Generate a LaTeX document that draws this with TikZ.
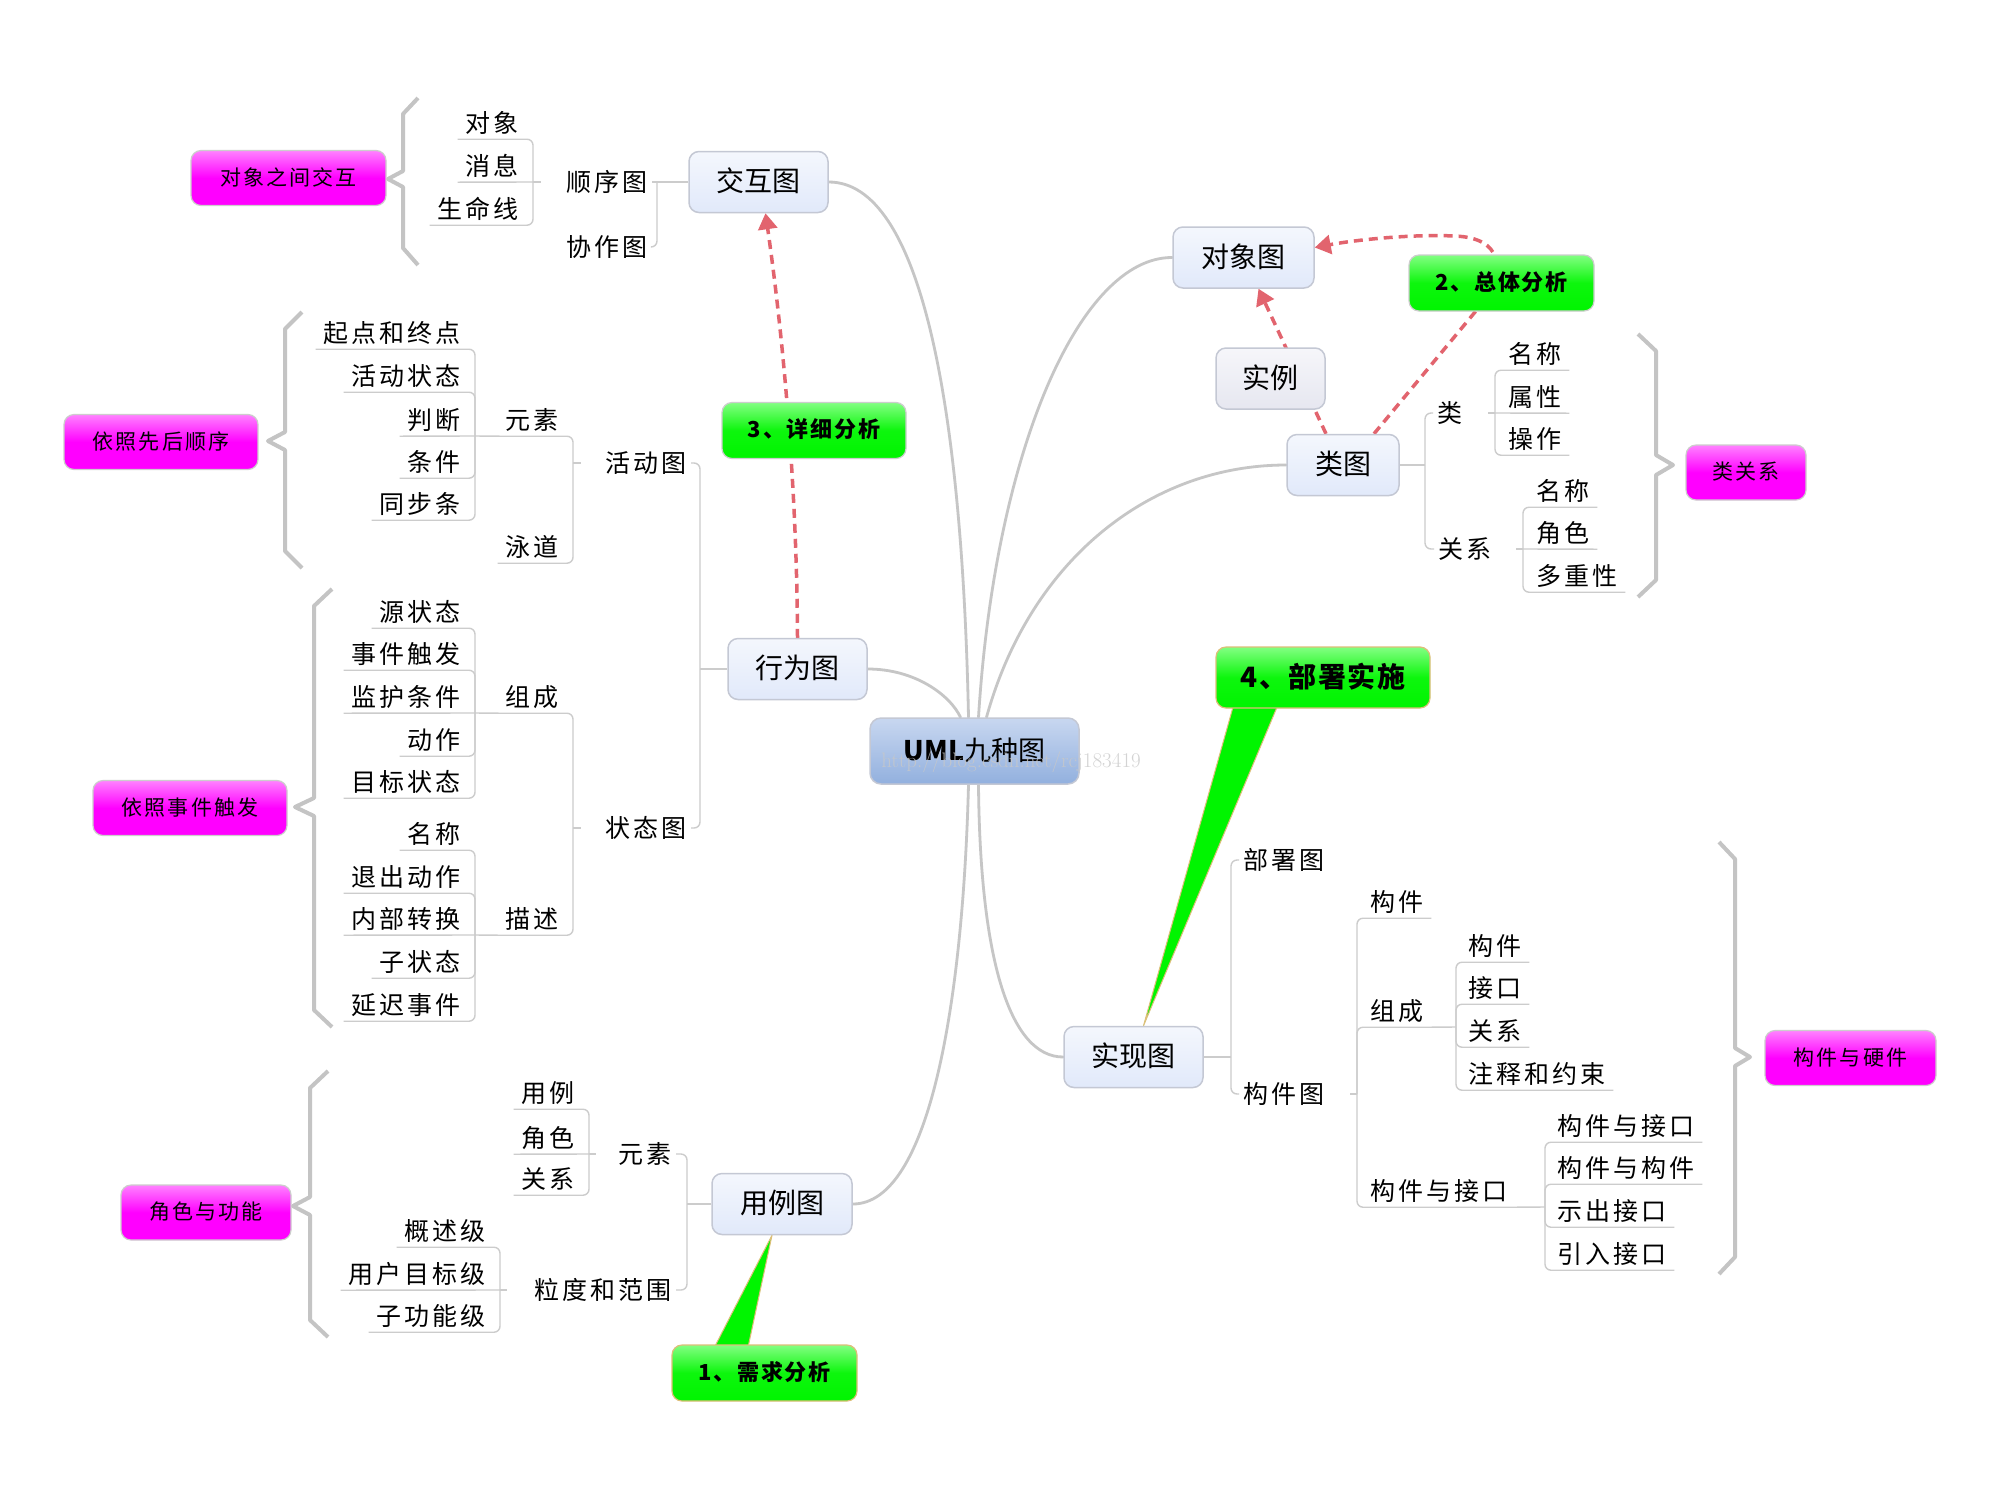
\documentclass[tikz,border=0pt]{standalone}
\usepackage{fontspec}
\newfontfamily\cjk{Noto Sans CJK SC}
\newfontfamily\cjkls{Noto Sans CJK SC}[LetterSpace=12]
\newfontfamily\cjkpk{Noto Sans CJK SC}[LetterSpace=10]
\newfontfamily\cjkgr{Noto Sans CJK SC}[LetterSpace=8]
\newfontfamily\cjkgrb{Noto Sans CJK SC}[LetterSpace=5]
\usetikzlibrary{arrows.meta,calc}
\pgfdeclarelayer{bg}
\pgfsetlayers{bg,main}
\definecolor{lineg}{RGB}{204,204,204}
\definecolor{mainl}{RGB}{198,198,198}
\definecolor{bracec}{RGB}{196,196,196}
\definecolor{dred}{RGB}{226,100,110}
\definecolor{boxt}{RGB}{244,247,253}
\definecolor{boxbt}{RGB}{225,233,250}
\definecolor{boxb}{RGB}{196,200,212}
\definecolor{cent}{RGB}{200,215,240}
\definecolor{cenb}{RGB}{146,176,222}
\definecolor{grt}{RGB}{130,255,130}
\definecolor{grbt}{RGB}{0,245,0}
\definecolor{pinkt}{RGB}{255,130,255}
\definecolor{pinkb}{RGB}{255,0,255}
\definecolor{tanb}{RGB}{222,190,120}
\definecolor{greyb}{RGB}{205,205,205}
\definecolor{instt}{RGB}{246,246,250}
\definecolor{instb}{RGB}{230,231,240}
\definecolor{wmark}{RGB}{200,200,200}
\tikzset{
  tline/.style={draw=lineg, line width=1.4pt, rounded corners=6pt},
  mainline/.style={draw=mainl, line width=2.8pt, line cap=round},
  brace/.style={draw=bracec, line width=4pt, line join=round},
  dasharrow/.style={draw=dred, line width=3.5pt, dash pattern=on 9pt off 6pt, -{Triangle[length=16pt,width=19pt]}},
  leafL/.style={font=\cjkls\fontsize{25}{30}\selectfont, inner xsep=8pt, inner ysep=4pt, text height=21pt, text depth=3pt, anchor=east},
  leafR/.style={leafL, anchor=west},
  topL/.style={leafL, inner xsep=4pt},
  topR/.style={topL, anchor=west},
  mainbox/.style={draw=boxb, line width=1.5pt, rounded corners=10pt, top color=boxt, bottom color=boxbt, minimum height=61pt, inner sep=0pt, font=\cjk\fontsize{28}{30}\selectfont, text height=22pt, text depth=3pt},
  instbox/.style={mainbox, top color=instt, bottom color=instb},
  centerbox/.style={draw=boxb, line width=1.5pt, rounded corners=11pt, top color=cent, bottom color=cenb, minimum width=209pt, minimum height=66pt, inner sep=0pt, font=\cjk\fontsize{27}{30}\selectfont, text height=21pt, text depth=3pt},
  greenbox/.style={draw=greyb, line width=1.2pt, rounded corners=10pt, top color=grt, bottom color=grbt, middle color=grbt!90!grt, minimum height=56pt, inner sep=0pt, font=\cjkgr\bfseries\fontsize{22}{26}\selectfont, text height=17pt, text depth=3pt},
  greenbig/.style={greenbox, draw=tanb, minimum height=61pt, font=\cjkgrb\bfseries\fontsize{28}{30}\selectfont, text height=22pt},
  pinkbox/.style={draw=greyb, line width=1.2pt, rounded corners=10pt, top color=pinkt, bottom color=pinkb, middle color=pinkb, minimum height=55pt, inner sep=0pt, font=\cjkpk\fontsize{21}{24}\selectfont, text height=17pt, text depth=3pt},
}
\begin{document}
\begin{tikzpicture}[x=1pt,y=-1pt]
\useasboundingbox (0,0) rectangle (2000,1500);
\begin{pgfonlayer}{bg}
\fill[white] (0,0) rectangle (2000,1500);
\end{pgfonlayer}

% ---------- main boxes ----------
\node[centerbox] (c) at (974.5,751) {{\bfseries UML}九种图};
\node[mainbox, minimum width=139pt] (jh) at (758.5,182) {交互图};
\node[mainbox, minimum width=139pt] (xw) at (797.5,669) {行为图};
\node[mainbox, minimum width=140pt] (yl) at (782,1204) {用例图};
\node[mainbox, minimum width=141pt] (dx) at (1243.5,257.5) {对象图};
\node[mainbox, minimum width=112pt] (lt) at (1343,465) {类图};
\node[mainbox, minimum width=139pt] (sx) at (1133.5,1057) {实现图};
\node[instbox, minimum width=109pt] (sl) at (1270.5,378.5) {实例};

% ---------- callouts ----------
\node[greenbox, minimum width=185pt] (g2) at (1501.5,283) {2、总体分析};
\node[greenbox, minimum width=184pt] (g3) at (814,430.5) {3、详细分析};
\node[greenbig, minimum width=214pt] (g4) at (1323,677.5) {4、部署实施};
\node[greenbox, draw=tanb, minimum width=185pt] (g1) at (764.5,1373) {1、需求分析};

% ---------- summaries ----------
\node[pinkbox, minimum width=195pt] (p1) at (288.5,178) {对象之间交互};
\node[pinkbox, minimum width=194pt] (p2) at (161,442) {依照先后顺序};
\node[pinkbox, minimum width=194pt] (p3) at (190,808) {依照事件触发};
\node[pinkbox, minimum width=170pt] (p4) at (206,1212.5) {角色与功能};
\node[pinkbox, minimum width=120pt] (p5) at (1746,472.5) {类关系};
\node[pinkbox, minimum width=171pt] (p6) at (1850.5,1058) {构件与硬件};

% ---------- junctions ----------
\coordinate (J-jh) at (657,182);
\coordinate (J-sxt) at (533,182);
\coordinate (J-xw) at (700,669);
\coordinate (J-hdt) at (573,463);
\coordinate (J-ys1) at (475,436);
\coordinate (J-zt) at (573,828);
\coordinate (J-zc) at (475,713);
\coordinate (J-ms) at (475,935);
\coordinate (J-yl) at (687,1204);
\coordinate (J-ys2) at (589,1154);
\coordinate (J-ld) at (500,1290);
\coordinate (J-lt) at (1425,465);
\coordinate (J-lei) at (1495,413);
\coordinate (J-gx) at (1523,549);
\coordinate (J-sx) at (1231,1057);
\coordinate (J-gjt) at (1357,1094);
\coordinate (J-zc2) at (1456,1027);
\coordinate (J-gy) at (1545,1207);

% ---------- 交互图 ----------
\node[topL] (sxt) at (652,182) {顺序图};
\node[topL] (xzt) at (652,247) {协作图};
\node[leafL] (dxa) at (527,123) {对象};
\node[leafL] (xxi) at (527,166) {消息};
\node[leafL] (smx) at (527,209) {生命线};

% ---------- 活动图 ----------
\node[topL] (hdt) at (691,463) {活动图};
\node[leafL] (ys1) at (567,420) {元素};
\node[leafL] (yd) at (567,547) {泳道};
\node[leafL] (a1) at (469,333) {起点和终点};
\node[leafL] (a2) at (469,376) {活动状态};
\node[leafL] (a3) at (469,420) {判断};
\node[leafL] (a4) at (469,462) {条件};
\node[leafL] (a5) at (469,504) {同步条};

% ---------- 状态图 ----------
\node[topL] (ztt) at (691,828) {状态图};
\node[leafL] (zc) at (567,697) {组成};
\node[leafL] (ms) at (567,919) {描述};
\node[leafL] (s1) at (469,612) {源状态};
\node[leafL] (s2) at (469,654) {事件触发};
\node[leafL] (s3) at (469,697) {监护条件};
\node[leafL] (s4) at (469,740) {动作};
\node[leafL] (s5) at (469,782) {目标状态};
\node[leafL] (s6) at (469,834) {名称};
\node[leafL] (s7) at (469,877) {退出动作};
\node[leafL] (s8) at (469,919) {内部转换};
\node[leafL] (s9) at (469,962) {子状态};
\node[leafL] (s10) at (469,1005) {延迟事件};

% ---------- 用例图 ----------
\node[topL] (ys2) at (676,1154) {元素};
\node[topL] (ldfw) at (676,1290) {粒度和范围};
\node[leafL] (u1) at (583,1093) {用例};
\node[leafL] (u2) at (583,1138) {角色};
\node[leafL] (u3) at (583,1179) {关系};
\node[leafL] (u4) at (494,1231) {概述级};
\node[leafL] (u5) at (494,1274) {用户目标级};
\node[leafL] (u6) at (494,1316) {子功能级};

% ---------- 类图 ----------
\node[topR] (lei) at (1433,413) {类};
\node[topR] (gx) at (1434,549) {关系};
\node[leafR] (c1) at (1500,354) {名称};
\node[leafR] (c2) at (1500,397) {属性};
\node[leafR] (c3) at (1500,439) {操作};
\node[leafR] (c4) at (1528,491) {名称};
\node[leafR] (c5) at (1528,533) {角色};
\node[leafR] (c6) at (1528,576) {多重性};

% ---------- 实现图 ----------
\node[topR] (bst) at (1239,860) {部署图};
\node[topR] (gjt) at (1239,1094) {构件图};
\node[leafR] (k1) at (1362,902) {构件};
\node[leafR] (zc2) at (1362,1011) {组成};
\node[leafR] (gy) at (1362,1191) {构件与接口};
\node[leafR] (k2) at (1460,946) {构件};
\node[leafR] (k3) at (1460,988) {接口};
\node[leafR] (k4) at (1460,1031) {关系};
\node[leafR] (k5) at (1460,1074) {注释和约束};
\node[leafR] (k6) at (1549,1126) {构件与接口};
\node[leafR] (k7) at (1549,1168) {构件与构件};
\node[leafR] (k8) at (1549,1211) {示出接口};
\node[leafR] (k9) at (1549,1254) {引入接口};

% watermark
\node[font=\rmfamily\fontsize{21}{21}\selectfont, text=wmark, opacity=0.8, inner sep=0pt] (wm) at (1011,762) {http://blog.csdn.net/rcj183419};

\begin{pgfonlayer}{bg}
% main curves
\draw[mainline] ($(c.north)+(-6,0)$) .. controls (962,400) and (920,182) .. (jh.east);
\draw[mainline] ($(c.north)+(-14,0)$) .. controls (950,695) and (915,669) .. (xw.east);
\draw[mainline] ($(c.north)+(4,0)$) .. controls (995,450) and (1080,257) .. (dx.west);
\draw[mainline] ($(c.north)+(12,0)$) .. controls (1030,560) and (1150,465) .. (lt.west);
\draw[mainline] ($(c.south)+(-6,0)$) .. controls (963,1000) and (930,1204) .. (yl.east);
\draw[mainline] ($(c.south)+(4,0)$) .. controls (980,960) and (1010,1057) .. (sx.west);

% 交互图 tree
\draw[tline] (jh.west) -- (J-jh);
\draw[tline] (J-jh) -- (sxt.east);
\draw[tline] (J-jh) |- (xzt.east);
\draw[tline] (J-sxt) -- ++(8,0);
\draw[tline] (J-sxt) |- (dxa.south west);
\draw[tline] (J-sxt) -- (xxi.south west);
\draw[tline] (J-sxt) |- (smx.south west);

% 行为图 tree
\draw[tline] (xw.west) -- (J-xw);
\draw[tline] (J-xw) |- (hdt.east);
\draw[tline] (J-xw) |- (ztt.east);
\draw[tline] (J-hdt) -- ++(8,0);
\draw[tline] (J-hdt) |- (ys1.south west) -- (J-ys1);
\draw[tline] (J-hdt) |- (yd.south west);
\foreach \n in {a1,a2,a4,a5} \draw[tline] (J-ys1) |- (\n.south west);
\draw[tline] (J-ys1) -- (a3.south west);
\draw[tline] (J-zt) -- ++(8,0);
\draw[tline] (J-zt) |- (zc.south west) -- (J-zc);
\draw[tline] (J-zt) |- (ms.south west) -- (J-ms);
\foreach \n in {s1,s2,s4,s5} \draw[tline] (J-zc) |- (\n.south west);
\draw[tline] (J-zc) -- (s3.south west);
\foreach \n in {s6,s7,s9,s10} \draw[tline] (J-ms) |- (\n.south west);
\draw[tline] (J-ms) -- (s8.south west);

% 用例图 tree
\draw[tline] (yl.west) -- (J-yl);
\draw[tline] (J-yl) |- (ys2.east);
\draw[tline] (J-yl) |- (ldfw.east);
\draw[tline] (J-ys2) -- ++(7,0);
\draw[tline] (J-ld) -- ++(7,0);
\draw[tline] (J-ys2) |- (u1.south west);
\draw[tline] (J-ys2) -- (u2.south west);
\draw[tline] (J-ys2) |- (u3.south west);
\draw[tline] (J-ld) |- (u4.south west);
\draw[tline] (J-ld) -- (u5.south west);
\draw[tline] (J-ld) |- (u6.south west);

% 类图 tree
\draw[tline] (lt.east) -- (J-lt);
\draw[tline] (J-lt) |- (lei.west);
\draw[tline] (J-lt) |- (gx.west);
\draw[tline] (J-lei) -- ++(-7,0);
\draw[tline] (J-gx) -- ++(-7,0);
\draw[tline] (J-lei) |- (c1.south east);
\draw[tline] (J-lei) -- (c2.south east);
\draw[tline] (J-lei) |- (c3.south east);
\draw[tline] (J-gx) |- (c4.south east);
\draw[tline] (J-gx) -- (c5.south east);
\draw[tline] (J-gx) |- (c6.south east);

% 实现图 tree
\draw[tline] (sx.east) -- (J-sx);
\draw[tline] (J-sx) |- (bst.west);
\draw[tline] (J-sx) |- (gjt.west);
\draw[tline] (J-gjt) -- ++(-7,0);
\draw[tline] (J-gjt) |- (k1.south east);
\draw[tline] (J-gjt) |- (zc2.south east) -- (J-zc2);
\draw[tline] (J-gjt) |- (gy.south east) -- (J-gy);
\foreach \n in {k2,k3,k4,k5} \draw[tline] (J-zc2) |- (\n.south east);
\foreach \n in {k6,k7,k8,k9} \draw[tline] (J-gy) |- (\n.south east);

% summary braces
\draw[brace] (418,98) -- (403,114) -- (403,171) -- (388,179) -- (403,187) -- (403,248) -- (418,265);
\draw[brace] (302,312) -- (285,329) -- (285,432) -- (268,441) -- (285,450) -- (285,551) -- (302,568);
\draw[brace] (332,589) -- (314,606) -- (314,798) -- (295,807) -- (314,816) -- (314,1010) -- (332,1027);
\draw[brace] (328,1071) -- (310,1088) -- (310,1197) -- (293,1206) -- (310,1215) -- (310,1320) -- (328,1337);
\draw[brace] (1638,334) -- (1656,351) -- (1656,455) -- (1673,465) -- (1656,475) -- (1656,580) -- (1638,597);
\draw[brace] (1719,842) -- (1735,859) -- (1735,1048) -- (1750,1057) -- (1735,1066) -- (1735,1257) -- (1719,1274);

% dashed relations
\draw[dasharrow] (xw.north) .. controls (797,500) and (785,350) .. ($(jh.south)+(7,0)$);
\draw[dasharrow] ($(lt.north)+(-17,0)$) -- ($(dx.south)+(15,0)$);
\draw[dasharrow] ($(lt.north)+(31,0)$) -- (1485,300) .. controls (1505,268) and (1502,238) .. (1455,236) .. controls (1410,234) and (1355,240) .. ($(dx.east)+(0,-10)$);

% callout tails
\filldraw[fill=grbt, draw=tanb, line width=1pt] (1235,700) -- (1280,700) -- ($(sx.north)+(10,0)$) -- cycle;
\filldraw[fill=grbt, draw=tanb, line width=1pt] (712,1352) -- (747,1352) -- ($(yl.south)+(-10,0)$) -- cycle;
\end{pgfonlayer}
\end{tikzpicture}
\end{document}
